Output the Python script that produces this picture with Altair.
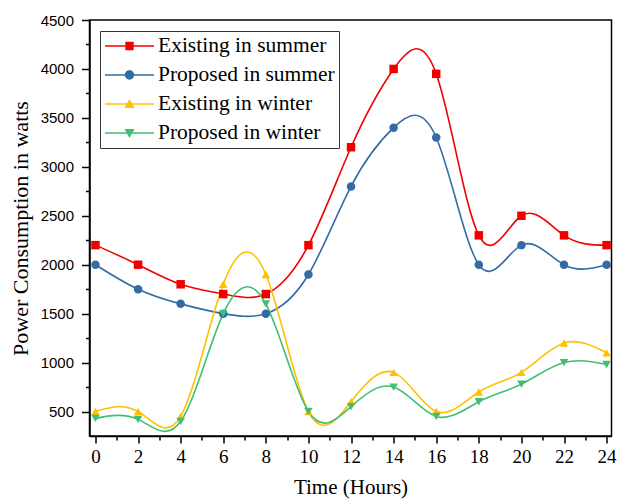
import altair as alt
import pandas as pd

hours = [0, 2, 4, 6, 8, 10, 12, 14, 16, 18, 20, 22, 24]
existing_summer = [2200, 2000, 1800, 1700, 1700, 2200, 3200, 4000, 3950, 2300, 2500, 2300, 2200]
proposed_summer = [2000, 1750, 1600, 1500, 1500, 1900, 2800, 3400, 3300, 2000, 2200, 2000, 2000]
existing_winter = [500, 500, 450, 1800, 1900, 500, 600, 900, 500, 700, 900, 1200, 1100]
proposed_winter = [430, 420, 400, 1500, 1600, 500, 550, 750, 450, 600, 780, 1000, 980]

series_names = ["Existing in summer", "Proposed in summer", "Existing in winter", "Proposed in winter"]
series_values = [existing_summer, proposed_summer, existing_winter, proposed_winter]
colors = ["#f20000", "#336ba5", "#ffc000", "#3fbf6f"]
shapes = ["square", "circle", "triangle-up", "triangle-down"]
legend_marker_paths = [
    "M-0.17,-0.17H0.17V0.17H-0.17Z",
    "M-0.19,0A0.19,0.19 0 1,0 0.19,0A0.19,0.19 0 1,0 -0.19,0Z",
    "M0,-0.2L0.21,0.16L-0.21,0.16Z",
    "M0,0.2L0.21,-0.16L-0.21,-0.16Z",
]
legend_line_path = "M-1,0H1"
major_x = hours
minor_x = [1, 3, 5, 7, 9, 11, 13, 15, 17, 19, 21, 23]
major_y = [500, 1000, 1500, 2000, 2500, 3000, 3500, 4000, 4500]
minor_y = [750, 1250, 1750, 2250, 2750, 3250, 3750, 4250]

rows = []
for name, vals in zip(series_names, series_values):
    for h, v in zip(hours, vals):
        rows.append({"hour": h, "watts": v, "series": name})
df = pd.DataFrame(rows)

xscale = alt.Scale(domain=[-0.28, 24.23], nice=False, zero=False)
yscale = alt.Scale(domain=[250, 4500], nice=False, zero=False)

serif = "Liberation Serif"
sans = "Liberation Sans"

x_major = alt.Axis(values=major_x, title="Time (Hours)", orient="bottom", grid=False,
                   domainColor="black", domainWidth=1.5, tickColor="black", tickWidth=1.5,
                   tickSize=7, labelFont=serif, labelFontSize=19, labelColor="black",
                   labelPadding=4, labelFlush=False, format="d",
                   titleFont=serif, titleFontSize=21, titleFontWeight="normal", titleColor="black",
                   titleY=51, titleBaseline="middle")
y_major = alt.Axis(values=major_y, title="Power Consumption in watts", orient="left", grid=False,
                   domainColor="black", domainWidth=1.5, tickColor="black", tickWidth=1.5,
                   tickSize=8, labelFont=sans, labelFontSize=15, labelColor="black",
                   labelPadding=8, labelFlush=False, format="d",
                   titleFont=serif, titleFontSize=22, titleFontWeight="normal", titleColor="black",
                   titleX=-69, titleY=208, titleAngle=270, titleAlign="center", titleBaseline="middle")
x_minor = alt.Axis(values=minor_x, title=None, orient="bottom", grid=False, labels=False,
                   domain=False, tickColor="black", tickWidth=1.5, tickSize=4)
y_minor = alt.Axis(values=minor_y, title=None, orient="left", grid=False, labels=False,
                   domain=False, tickColor="black", tickWidth=1.5, tickSize=4)

lines = alt.Chart(df).mark_line(interpolate="natural", strokeWidth=1.6).encode(
    x=alt.X("hour:Q", scale=xscale, axis=x_major),
    y=alt.Y("watts:Q", scale=yscale, axis=y_major),
    color=alt.Color("series:N", scale=alt.Scale(domain=series_names, range=colors), legend=None),
    detail="series:N",
)

points = alt.Chart(df).mark_point(filled=True, size=72, opacity=1).encode(
    x=alt.X("hour:Q", scale=xscale, axis=x_minor),
    y=alt.Y("watts:Q", scale=yscale, axis=y_minor),
    color=alt.Color("series:N", scale=alt.Scale(domain=series_names, range=colors), legend=None),
    shape=alt.Shape("series:N", scale=alt.Scale(domain=series_names, range=shapes), legend=None),
)

common = dict(title=None, orient="none", legendX=10.5, legendY=11, direction="vertical",
              padding=4, rowPadding=7, clipHeight=22,
              labelFont=serif, labelFontSize=21.5, labelColor="black", labelOffset=3,
              symbolSize=2401, symbolStrokeWidth=1.5, labelLimit=400, symbolOpacity=1)

# legend A: coloured line segments, frame and labels
leg_lines = alt.Legend(strokeColor="#333333", symbolType=legend_line_path, **common)
# legend B: filled markers drawn on top, labels hidden
leg_marks = alt.Legend(labelOpacity=0, **common)

legend_df = pd.DataFrame({"series": series_names})
legend_a = alt.Chart(legend_df).transform_filter("false").mark_point(
    filled=False, opacity=1, size=2401, strokeWidth=1.5
).encode(
    color=alt.Color("series:N", scale=alt.Scale(domain=series_names, range=colors), legend=leg_lines),
)
legend_b = alt.Chart(legend_df).transform_filter("false").mark_point(
    filled=True, opacity=1, size=2401
).encode(
    fill=alt.Fill("series:N", scale=alt.Scale(domain=series_names, range=colors), legend=leg_marks),
    shape=alt.Shape("series:N", scale=alt.Scale(domain=series_names, range=legend_marker_paths), legend=leg_marks),
)

chart = alt.layer(lines, points, legend_a, legend_b).resolve_axis(
    x="independent", y="independent"
).resolve_scale(shape="independent", color="independent", fill="independent").resolve_legend(
    color="independent", shape="independent", fill="independent"
).properties(
    width=522, height=416,
    autosize=alt.AutoSizeParams(type="none"),
    padding={"left": 89.5, "top": 20, "right": 6, "bottom": 63},
    background="white",
).configure_view(stroke="black", strokeWidth=1.5)

chart.save("out.html", embed_options={"renderer": "svg", "actions": False})
